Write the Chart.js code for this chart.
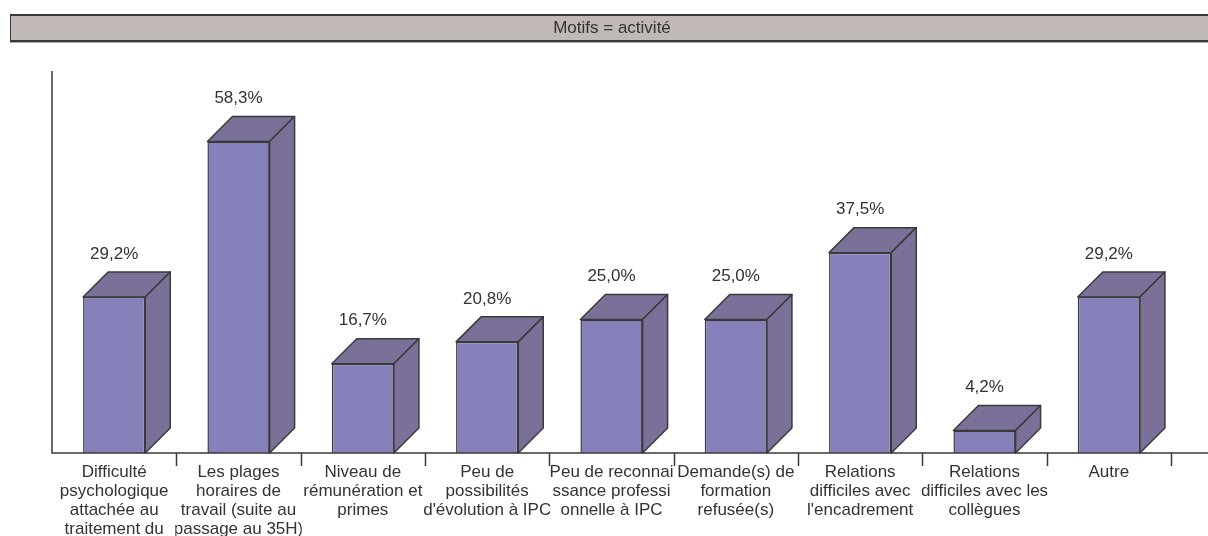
<!DOCTYPE html>
<html>
<head>
<meta charset="utf-8">
<title>Motifs = activité</title>
<script src="https://cdn.jsdelivr.net/npm/chart.js@4"></script>
<style>
  body { margin: 0; background: #fff; overflow: hidden; }
  #wrap { position: relative; width: 1208px; height: 536px; }
  #motifs {
    position: absolute; left: 10px; top: 14px; width: 1202px; height: 24px;
    background: #c1b9b6; border-top: 2px solid #3a3a3a; border-bottom: 2px solid #3a3a3a;
    border-left: 1px solid #3a3a3a; box-shadow: 0 1px 0 #a8a8a8;
    font: 17px "Liberation Sans", Arial, sans-serif; color: #333;
    line-height: 24px; text-align: center;
  }
  canvas { position: absolute; left: 0; top: 0; }
</style>
</head>
<body>
<div id="wrap">
  <canvas id="motifs-chart" width="1208" height="536"></canvas>
  <div id="motifs">Motifs = activité</div>
</div>
<script>
const categories = [
  ['Difficulté', 'psychologique', 'attachée au', 'traitement du'],
  ['Les plages', 'horaires de', 'travail (suite au', 'passage au 35H)'],
  ['Niveau de', 'rémunération et', 'primes'],
  ['Peu de', 'possibilités', "d'évolution à IPC"],
  ['Peu de reconnai', 'ssance professi', 'onnelle à IPC'],
  ['Demande(s) de', 'formation', 'refusée(s)'],
  ['Relations', 'difficiles avec', "l'encadrement"],
  ['Relations', 'difficiles avec les', 'collègues'],
  ['Autre'],
];
const percentages = [29.2, 58.3, 16.7, 20.8, 25.0, 25.0, 37.5, 4.2, 29.2];

const FONT = '17px "Liberation Sans", Arial, sans-serif';
const DEPTH = 25;
const FRONT = '#8781bb';
const SHADE = '#7b7098';
const EDGE = '#3a3a3a';
const TEXT = '#333333';

function formatPercent(v) {
  return v.toFixed(1).replace('.', ',') + '%';
}

// top and right faces of each box, plus the value above it
const boxFaces = {
  id: 'boxFaces',
  afterDatasetsDraw(chart) {
    const ctx = chart.ctx;
    const meta = chart.getDatasetMeta(0);
    ctx.save();
    ctx.lineWidth = 1.5;
    ctx.strokeStyle = EDGE;
    ctx.lineJoin = 'round';
    meta.data.forEach((bar, i) => {
      const { x, y, base, width } = bar.getProps(['x', 'y', 'base', 'width'], true);
      const l = x - width / 2;
      const r = x + width / 2;

      ctx.fillStyle = SHADE;
      ctx.beginPath();
      ctx.moveTo(l, y);
      ctx.lineTo(l + DEPTH, y - DEPTH);
      ctx.lineTo(r + DEPTH, y - DEPTH);
      ctx.lineTo(r, y);
      ctx.closePath();
      ctx.fill();
      ctx.stroke();

      ctx.beginPath();
      ctx.moveTo(r, y);
      ctx.lineTo(r + DEPTH, y - DEPTH);
      ctx.lineTo(r + DEPTH, base - DEPTH);
      ctx.lineTo(r, base);
      ctx.closePath();
      ctx.fill();
      ctx.stroke();

      ctx.fillStyle = TEXT;
      ctx.font = FONT;
      ctx.textAlign = 'center';
      ctx.textBaseline = 'middle';
      ctx.fillText(formatPercent(percentages[i]), x, y - DEPTH - 18);
    });
    ctx.restore();
  },
};

// axis lines, category separators and wrapped category names
const axesAndNames = {
  id: 'axesAndNames',
  afterDraw(chart) {
    const ctx = chart.ctx;
    const area = chart.chartArea;
    const xs = chart.scales.x;
    ctx.save();
    ctx.strokeStyle = EDGE;
    ctx.lineWidth = 1.5;
    ctx.beginPath();
    ctx.moveTo(area.left, area.top);
    ctx.lineTo(area.left, area.bottom);
    ctx.lineTo(chart.width, area.bottom);
    for (let i = 1; i <= categories.length; i++) {
      const bx = Math.round(xs.getPixelForValue(i - 0.5)) + 0.5;
      ctx.moveTo(bx, area.bottom);
      ctx.lineTo(bx, area.bottom + 13);
    }
    ctx.stroke();

    ctx.fillStyle = TEXT;
    ctx.font = FONT;
    ctx.textAlign = 'center';
    ctx.textBaseline = 'middle';
    categories.forEach((lines, i) => {
      const left = xs.getPixelForValue(i - 0.5);
      const right = xs.getPixelForValue(i + 0.5);
      const cx = xs.getPixelForValue(i);
      ctx.save();
      ctx.beginPath();
      ctx.rect(left - 1, area.bottom + 2, right - left + 2, chart.height - area.bottom);
      ctx.clip();
      lines.forEach((line, k) => {
        ctx.fillText(line, cx, area.bottom + 19 + k * 19);
      });
      ctx.restore();
    });
    ctx.restore();
  },
};

new Chart(document.getElementById('motifs-chart'), {
  type: 'bar',
  data: {
    labels: categories,
    datasets: [
      {
        data: percentages,
        backgroundColor: FRONT,
        borderColor: EDGE,
        borderWidth: 1.5,
        barPercentage: 1,
        categoryPercentage: 0.5,
      },
    ],
  },
  options: {
    responsive: false,
    animation: false,
    devicePixelRatio: 1,
    layout: { padding: { left: 52, right: 37, top: 71, bottom: 83 } },
    scales: {
      x: { display: false, offset: true },
      y: { display: false, min: 0, max: 71.5 },
    },
    plugins: {
      legend: { display: false },
      tooltip: { enabled: false },
    },
  },
  plugins: [boxFaces, axesAndNames],
});
</script>
</body>
</html>
